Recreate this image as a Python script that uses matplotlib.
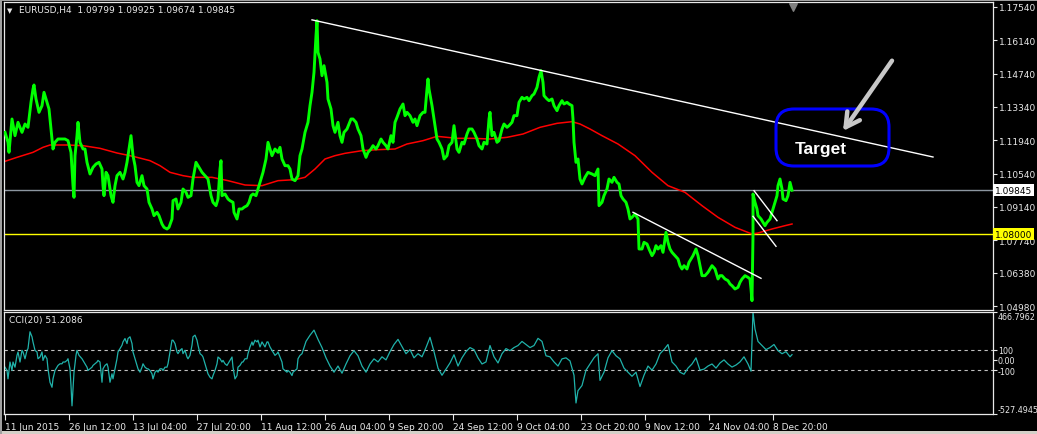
import numpy as np
import matplotlib.pyplot as plt
from matplotlib.patches import FancyBboxPatch, Rectangle

W, H = 1037, 435

# EURUSD H4 closes (bar number, price)
bars = [0, 3, 4, 7, 10, 13, 17, 20, 23, 26, 28, 29, 31, 34, 37, 39, 42, 44, 46, 48,
        50, 53, 57, 60, 63, 66, 68, 69, 70, 72, 73, 75, 78, 80, 82, 85, 88, 91, 94, 97,
        98, 99, 101, 103, 106, 108, 110, 112, 115, 118, 120, 122, 125, 126, 128, 130, 132, 134, 137, 139,
        142, 144, 147, 149, 152, 154, 157, 159, 162, 164, 167, 168, 171, 173, 176, 178, 181, 183, 186, 188,
        191, 193, 197, 200, 203, 206, 208, 211, 213, 215, 216, 217, 220, 223, 225, 228, 229, 232, 234, 237,
        239, 242, 244, 246, 248, 251, 253, 256, 258, 261, 263, 265, 267, 270, 273, 275, 277, 280, 283, 285,
        287, 290, 293, 295, 297, 300, 303, 305, 307, 309, 311, 312, 313, 315, 317, 319, 322, 323, 326, 328,
        330, 333, 335, 337, 339, 342, 344, 346, 348, 351, 353, 356, 358, 361, 363, 366, 368, 371, 373, 376,
        378, 381, 383, 386, 388, 390, 392, 395, 398, 400, 402, 405, 408, 410, 412, 415, 418, 420, 422, 423,
        424, 427, 429, 432, 434, 437, 439, 442, 444, 447, 449, 452, 454, 457, 459, 462, 464, 467, 469, 472,
        474, 477, 479, 482, 484, 485, 487, 489, 492, 494, 497, 499, 502, 504, 507, 509, 512, 514, 517, 519,
        522, 524, 527, 529, 532, 534, 536, 538, 539, 542, 544, 547, 549, 552, 554, 557, 559, 562, 564, 567,
        568, 569, 571, 573, 575, 577, 580, 583, 587, 590, 593, 594, 597, 599, 602, 604, 607, 609, 612, 614,
        616, 618, 621, 623, 625, 627, 630, 633, 634, 637, 639, 642, 644, 647, 649, 651, 653, 656, 658, 661,
        663, 665, 667, 670, 673, 675, 677, 679, 682, 684, 686, 688, 691, 693, 695, 697, 700, 703, 705, 707,
        710, 713, 715, 717, 720, 723, 725, 727, 730, 733, 735, 737, 740, 743, 745, 746, 747, 748, 748, 750,
        752, 753, 756, 758, 760, 762, 765, 767, 769, 772, 773, 775, 777, 778, 781, 783, 785, 787]
close = [1.12276, 1.11856, 1.11436, 1.12836, 1.12136, 1.12696, 1.12276, 1.12626, 1.12486, 1.13536,
         1.14096, 1.14264, 1.13676, 1.13116, 1.13396, 1.13956, 1.13536, 1.13256, 1.12416, 1.11576,
         1.11856, 1.11996, 1.11996, 1.11996, 1.11926, 1.11436, 1.10036, 1.09546, 1.11296, 1.12136,
         1.12696, 1.11856, 1.11576, 1.11576, 1.11016, 1.10526, 1.10806, 1.10946, 1.11016, 1.10736,
         1.10036, 1.09616, 1.10596, 1.10456, 1.09616, 1.09336, 1.10036, 1.10456, 1.10596, 1.10316,
         1.10596, 1.11016, 1.11856, 1.12136, 1.11296, 1.10876, 1.10176, 1.10036, 1.10456, 1.10036,
         1.09896, 1.09336, 1.09056, 1.08776, 1.08916, 1.08776, 1.08426, 1.08286, 1.08216, 1.08286,
         1.08636, 1.09406, 1.09476, 1.09056, 1.09336, 1.09896, 1.09756, 1.09546, 1.09616, 1.10316,
         1.11016, 1.10876, 1.10596, 1.10456, 1.10316, 1.09616, 1.09336, 1.09196, 1.09476, 1.10736,
         1.11086, 1.09616, 1.09686, 1.09476, 1.09406, 1.09336, 1.08916, 1.08636, 1.09056, 1.09056,
         1.09126, 1.09196, 1.09336, 1.09616, 1.09686, 1.09616, 1.09896, 1.10316, 1.10596, 1.11156,
         1.11856, 1.11576, 1.11296, 1.11576, 1.11436, 1.11646, 1.11156, 1.10876, 1.10876, 1.10736,
         1.10316, 1.10246, 1.10456, 1.11296, 1.11576, 1.12276, 1.12696, 1.13396, 1.13956, 1.14796,
         1.16336, 1.16966, 1.15636, 1.15356, 1.14656, 1.15076, 1.14376, 1.13676, 1.13256, 1.12556,
         1.12276, 1.12696, 1.12136, 1.11856, 1.12276, 1.12416, 1.12626, 1.12836, 1.12836, 1.12696,
         1.12416, 1.12136, 1.11576, 1.11226, 1.11436, 1.11576, 1.11716, 1.11576, 1.11716, 1.11996,
         1.11856, 1.11716, 1.11576, 1.12136, 1.11856, 1.12696, 1.12906, 1.13256, 1.13466, 1.12976,
         1.13116, 1.12976, 1.12696, 1.12836, 1.12556, 1.12976, 1.13116, 1.13116, 1.14096, 1.14516,
         1.14096, 1.13396, 1.12836, 1.11996, 1.11856, 1.11576, 1.11156, 1.11296, 1.11716, 1.11856,
         1.12556, 1.11576, 1.11436, 1.11856, 1.11786, 1.12206, 1.12416, 1.12416, 1.12276, 1.11996,
         1.11716, 1.11576, 1.11856, 1.11786, 1.12836, 1.13116, 1.12136, 1.12276, 1.11856, 1.11926,
         1.12416, 1.12626, 1.12486, 1.12556, 1.12696, 1.12976, 1.12976, 1.13536, 1.13746, 1.13676,
         1.13746, 1.13606, 1.13816, 1.13886, 1.14166, 1.14586, 1.14866, 1.14376, 1.13816, 1.13676,
         1.13606, 1.13676, 1.13396, 1.13186, 1.13396, 1.13606, 1.13466, 1.13536, 1.13466, 1.13396,
         1.12836, 1.11856, 1.11016, 1.11156, 1.10316, 1.10106, 1.10386, 1.10596, 1.10526, 1.10456,
         1.10736, 1.09196, 1.09336, 1.09616, 1.09896, 1.10316, 1.10176, 1.10386, 1.10176, 1.10106,
         1.09616, 1.09476, 1.09336, 1.09056, 1.08636, 1.08706, 1.08846, 1.08636, 1.07376, 1.07376,
         1.07656, 1.07586, 1.07376, 1.07096, 1.07236, 1.07516, 1.07376, 1.07516, 1.07236, 1.08076,
         1.07656, 1.07376, 1.07236, 1.07096, 1.06956, 1.06676, 1.06536, 1.06676, 1.06536, 1.06816,
         1.06956, 1.07096, 1.07376, 1.07096, 1.06676, 1.06256, 1.06256, 1.06396, 1.06536, 1.06676,
         1.06536, 1.06116, 1.06256, 1.06256, 1.06116, 1.06046, 1.05906, 1.05836, 1.05696, 1.05766,
         1.05976, 1.06116, 1.06256, 1.06186, 1.06116, 1.05696, 1.05206, 1.07936, 1.09686, 1.09336,
         1.09056, 1.08776, 1.08636, 1.08496, 1.08356, 1.08496, 1.08636, 1.08916, 1.09196, 1.09616,
         1.10036, 1.10316, 1.09896, 1.09476, 1.09406, 1.09616, 1.10176, 1.09845]

# red moving average
ma_bars = [0, 12, 28, 38, 45, 62, 78, 95, 112, 128, 145, 155, 165, 178, 188, 207, 223, 240, 257, 273,
           290, 300, 310, 320, 330, 340, 357, 373, 390, 402, 418, 432, 452, 468, 485, 502, 518, 535, 552, 567,
           575, 585, 597, 613, 630, 647, 663, 680, 697, 713, 730, 747, 753, 767, 780, 787]
ma_vals = [1.11058, 1.11226, 1.11436, 1.11646, 1.11744, 1.11744, 1.11716, 1.11604, 1.11408, 1.11268,
           1.11086, 1.10876, 1.10596, 1.10456, 1.10386, 1.10386, 1.10246, 1.10064, 1.10036, 1.10246,
           1.10288, 1.10386, 1.10736, 1.11156, 1.11296, 1.11394, 1.11506, 1.11548, 1.11576, 1.11786,
           1.11926, 1.12108, 1.12024, 1.12024, 1.11996, 1.12066, 1.12206, 1.12486, 1.12654, 1.12724,
           1.12626, 1.12416, 1.12136, 1.11786, 1.11296, 1.10596, 1.10036, 1.09756, 1.09196, 1.08706,
           1.08286, 1.08006, 1.08048, 1.08216, 1.08356, 1.08426]

# CCI(20)
cci_bars = [0, 2, 3, 5, 7, 8, 10, 12, 13, 15, 17, 18, 20, 22, 23, 25, 27, 28, 30, 32,
            33, 35, 37, 38, 40, 42, 43, 45, 47, 48, 50, 52, 53, 55, 57, 58, 60, 62, 63, 65,
            66, 67, 68, 69, 71, 72, 74, 77, 78, 80, 82, 83, 85, 87, 88, 90, 92, 93, 95, 97,
            98, 100, 102, 103, 105, 107, 108, 110, 112, 113, 115, 117, 118, 120, 122, 123, 125, 127, 128, 130,
            132, 133, 135, 137, 138, 140, 142, 143, 145, 147, 148, 150, 152, 153, 155, 157, 158, 160, 162, 163,
            165, 167, 168, 170, 172, 173, 175, 177, 178, 180, 182, 183, 185, 187, 188, 190, 192, 193, 195, 197,
            198, 200, 202, 203, 205, 207, 208, 210, 212, 213, 215, 217, 218, 220, 222, 223, 225, 227, 228, 230,
            232, 233, 235, 237, 238, 240, 242, 243, 245, 247, 248, 250, 252, 253, 255, 257, 258, 260, 262, 263,
            265, 267, 268, 270, 272, 273, 275, 277, 278, 280, 282, 283, 285, 287, 288, 290, 292, 293, 295,
            297, 301, 305, 309, 313, 317, 321, 325, 329, 333, 337, 341, 345, 349, 353, 357, 361, 365, 369, 373,
            377, 381, 385, 389, 393, 397, 401, 405, 409, 413, 417, 421, 425, 429, 433, 437, 441, 445, 449, 453,
            457, 461, 465, 469, 473, 477, 481, 485, 489, 493, 497, 501, 505, 509, 513, 517, 521, 525, 529, 533,
            537, 541, 545, 549, 553, 557, 561, 565, 569, 571, 573, 577, 581, 585, 589, 593, 595, 599, 603, 607,
            611, 615, 619, 623, 627, 631, 635, 639, 643, 647, 651, 655, 659, 663, 667, 671, 675, 679, 683, 687,
            691, 695, 699, 703, 707, 711, 715, 719, 723, 727, 731, 735, 739, 743, 746, 748, 750, 753, 757, 761,
            765, 769, 773, 777, 781, 785, 787]
cci_vals = [-71, -103, -185, -21, -103, -21, -71, 44, 77, -21, 93, 77, 11, 93, 110, 274, 225, 175, 93, 77,
            11, 28, 77, -5, 44, 11, -87, -218, -267, -185, -103, -71, -54, -38, -38, -21, -21, -5, 11, -87,
            -251, -448, -284, -120, 44, 93, 44, 11, -5, -38, -71, -103, -87, -71, -54, -38, -21, -5, -21, -218,
            -87, -54, -38, -71, -218, -136, -185, -87, 11, 77, 110, 143, 175, 208, 159, 208, 225, 159, 77, 11,
            -54, -87, -120, -71, -38, -71, -87, -87, -103, -136, -185, -120, -103, -120, -87, -87, -103, -71, -71, -38,
            77, 192, 192, 159, 77, 61, 93, 110, 61, 93, 28, 11, 44, 143, 225, 241, 192, 143, 61, 44,
            28, -38, -103, -136, -169, -185, -153, -103, -38, 28, 11, -21, -5, -38, -54, -38, -5, 28, -71, -185,
            -153, -71, -54, -21, -21, 11, 11, 61, 126, 175, 143, 192, 175, 192, 126, 175, 159, 126, 175, 175,
            126, 93, 77, 44, 61, 77, 28, -21, -87, -103, -120, -103, -120, -153, -120, -103, -87, 11, 44,
            60, 180, 240, 290, 200, 120, 20, -60, -120, -60, -130, -40, 40, 90, 40, -60, -120, -40, 10, -20,
            30, 0, 80, 150, 200, 130, 60, 100, 20, 60, 30, 120, 220, 80, -80, -150, -90, -30, 50, -60,
            20, 80, 120, 100, 20, -40, -20, 140, 30, -30, 60, 110, 90, 120, 140, 180, 150, 120, 140, 210,
            180, 40, 30, -20, -60, 10, 20, -10, -150, -420, -300, -250, -100, -40, 20, 60, -200, -120, 20, 90,
            40, 10, -80, -120, -160, -120, -260, -150, -60, -100, -40, 60, 100, 150, -20, -60, -120, -140, -80, -40,
            20, -100, -90, -60, -40, -80, -30, 0, -40, -70, -50, -20, 30, -40, -110, 466, 300, 180, 140, 100,
            120, 150, 90, 60, 80, 30, 51]

price_ticks = [1.17540, 1.16140, 1.14740, 1.13340, 1.11940, 1.10540, 1.09140, 1.07740, 1.06380, 1.04980]
date_ticks = [0, 64, 128, 192, 256, 320, 384, 448, 512, 576, 640, 704, 768]
date_labels = ['11 Jun 2015', '26 Jun 12:00', '13 Jul 04:00', '27 Jul 20:00', '11 Aug 12:00',
               '26 Aug 04:00', '9 Sep 20:00', '24 Sep 12:00', '9 Oct 04:00', '23 Oct 20:00',
               '9 Nov 12:00', '24 Nov 04:00', '8 Dec 20:00']
cci_ticks = [466.7962, 100, 0, -100, -527.4945]
cci_labels = ['466.7962', '100', '0.00', '-100', '-527.4945']
bid, level = 1.09845, 1.08000

fg = '#E8E8E8'
fs = 6.5
plt.rcParams['font.family'] = ['DejaVu Sans']

fig = plt.figure(figsize=(W / 100, H / 100), dpi=100, facecolor='black')
ax = fig.add_axes([4 / W, 1 - 311 / H, 989 / W, 308 / H], facecolor='black')
cax = fig.add_axes([4 / W, 1 - 415 / H, 989 / W, 102 / H], facecolor='black')

for a in (ax, cax):
    a.set_xlim(-1, 988)
    for s in a.spines.values():
        s.set_color(fg)
        s.set_linewidth(0.9)
    a.yaxis.tick_right()
    a.tick_params(axis='y', colors=fg, labelsize=fs, length=3, width=0.8, pad=1)

# --- price panel
ax.set_ylim(1.04814, 1.1775)
ax.axhline(bid, color='#8C96A0', lw=1, zorder=1)
ax.axhline(level, color='#FFFF00', lw=1, zorder=1)
ax.plot(ma_bars, ma_vals, color='#FF0000', lw=1.1, zorder=2)
ax.plot(bars, close, color='#00FF00', lw=2.1, zorder=3)

# trend lines
ax.plot([307, 928], [1.1700, 1.1124], color='white', lw=1, zorder=4)
ax.plot([628, 756], [1.08917, 1.06145], color='white', lw=1, zorder=4)
ax.plot([749, 772], [1.09825, 1.08565], color='white', lw=1, zorder=4)
ax.plot([748, 771], [1.08749, 1.07489], color='white', lw=1, zorder=4)

# target box + arrow
box = FancyBboxPatch((771, 1.10862), 113, 0.02394, boxstyle='round,pad=0,rounding_size=18',
                     mutation_aspect=0.00042, ec='#0000FF', fc='none', lw=2.2, zorder=5)
ax.add_patch(box)
ax.text(816, 1.11576, 'Target', color='white', fontsize=12.5, fontweight='bold',
        family=['Liberation Sans Narrow', 'Liberation Sans'], ha='center', va='center', zorder=6)
ax.annotate('', xy=(838, 1.12332), xytext=(887, 1.15285),
            arrowprops=dict(arrowstyle='->,head_length=1.0,head_width=0.55', color='#C8C8C8',
                            lw=3.2, shrinkA=0, shrinkB=0), zorder=6)

ax.set_xticks([])
ax.set_yticks(price_ticks)
ax.set_yticklabels([f'{v:.5f}' for v in price_ticks])

yt = ax.get_yaxis_transform()
ax.text(1.002, bid, f'{bid:.5f}', transform=yt, color='black', fontsize=fs, va='center', ha='left',
        bbox=dict(fc='white', ec='none', pad=1.2), clip_on=False, zorder=10)
ax.text(1.002, level, f'{level:.5f}', transform=yt, color='black', fontsize=fs, va='center', ha='left',
        bbox=dict(fc='#FFFF00', ec='none', pad=1.2), clip_on=False, zorder=10)

# chart shift marker
ax.scatter([788], [0.985], transform=ax.get_xaxis_transform(), marker='v', s=30, color='#808080',
           clip_on=False, zorder=7)

# --- CCI panel
cax.set_ylim(-527.4945, 466.7962)
cax.axhline(100, color='#C0C0C0', lw=0.8, ls=(0, (3, 3)))
cax.axhline(-100, color='#C0C0C0', lw=0.8, ls=(0, (3, 3)))
cax.plot(cci_bars, cci_vals, color='#20B2AA', lw=0.9)
cax.set_yticks(cci_ticks)
cax.set_yticklabels(cci_labels)
cax.tick_params(axis='y', labelsize=5.8, pad=0.5)
lab = cax.get_yticklabels()
lab[0].set_va('top')
lab[-1].set_va('bottom')
cax.set_xticks(date_ticks)
cax.set_xticklabels(date_labels, ha='left')
cax.tick_params(axis='x', colors=fg, labelsize=fs, length=4, width=0.8, pad=2)

# header texts
fig.text(7 / W, 1 - 11 / H, '\u25bc', color=fg, fontsize=5, va='center')
fig.text(19 / W, 1 - 11 / H, 'EURUSD,H4  1.09799 1.09925 1.09674 1.09845', color=fg, fontsize=fs, va='center')
fig.text(9 / W, 1 - 321 / H, 'CCI(20) 51.2086', color=fg, fontsize=fs, va='center')

# window frame
fig.patches.append(Rectangle((0, 0), 1, 3 / H, transform=fig.transFigure, fc='#D4D0C8', ec='none'))
fig.patches.append(Rectangle((0, 0), 2 / W, 1, transform=fig.transFigure, fc='#A0A0A0', ec='none'))
fig.patches.append(Rectangle((0, 1 - 1.5 / H), 1, 1.5 / H, transform=fig.transFigure, fc='#A0A0A0', ec='none'))

fig.savefig('out.png', dpi=100, facecolor='black')
